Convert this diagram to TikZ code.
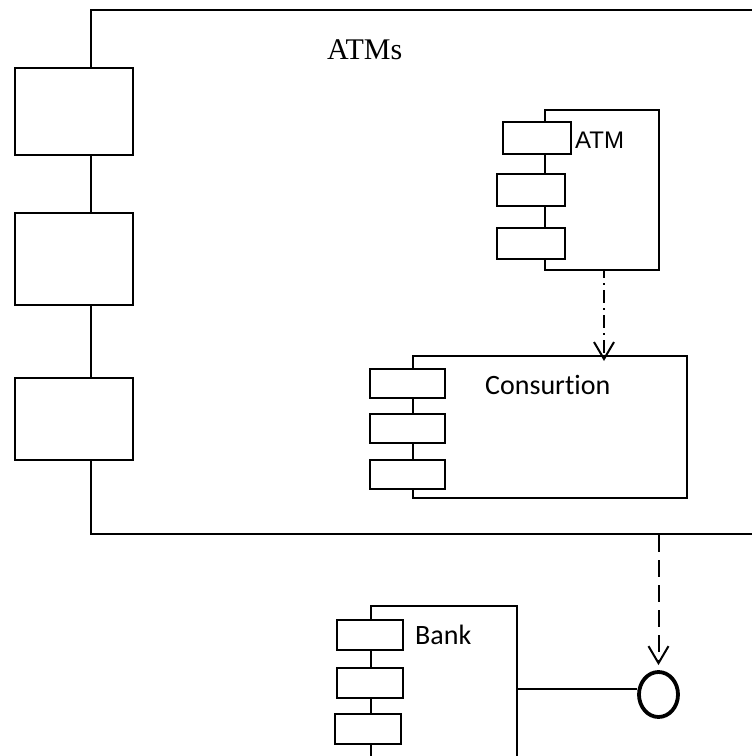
\documentclass[tikz,border=0pt]{standalone}
\usepackage{fontspec}
\setmainfont{Liberation Serif}
\newfontfamily\calfont[Ligatures=NoCommon]{Carlito}
\newfontfamily\arialfont{Liberation Sans}
\usetikzlibrary{arrows.meta,shapes.geometric}
\begin{document}
\begin{tikzpicture}[x=1pt,y=-1pt,
  outer/.style={draw,line width=2pt,fill=white,anchor=north west,inner sep=0pt},
  part/.style={draw,line width=1.8pt,fill=white,anchor=north west,inner sep=0pt},
  port/.style={draw,line width=1.7pt,fill=white,anchor=north west,inner sep=0pt},
  lbl/.style={anchor=base west,inner sep=0pt},
  vee/.style={-{Straight Barb[length=17pt,width=20pt,line width=2pt]}}]
\useasboundingbox (0,0) rectangle (752,756);
\clip (0,0) rectangle (752,756);

% enclosing ATMs component with its three big ports
\node[outer,minimum width=710pt,minimum height=524pt] (atms) at (90,9) {};
\node[anchor=base west,inner sep=0pt,font=\fontsize{30}{32}\selectfont] (atmstitle) at (327,59) {ATMs};
\node[outer,minimum width=118pt,minimum height=87pt] (p1) at (14,67) {};
\node[outer,minimum width=118pt,minimum height=92pt] (p2) at (14,212) {};
\node[outer,minimum width=118pt,minimum height=82pt] (p3) at (14,377) {};

% ATM component
\node[part,minimum width=114pt,minimum height=160pt] (atm) at (544,109) {};
\node[port,minimum width=68pt,minimum height=32pt] (a1) at (502,121) {};
\node[port,minimum width=68pt,minimum height=32pt] (a2) at (496,173) {};
\node[port,minimum width=68pt,minimum height=31pt] (a3) at (496,227) {};
\node[lbl,font=\arialfont\fontsize{24}{26}\selectfont] (atmlbl) at (575,148) {ATM};

% Consurtion component
\node[part,minimum width=274pt,minimum height=142pt] (cons) at (412,355) {};
\node[port,minimum width=75pt,minimum height=29pt] (c1) at (369,368) {};
\node[port,minimum width=75pt,minimum height=29pt] (c2) at (369,413) {};
\node[port,minimum width=75pt,minimum height=29pt] (c3) at (369,459) {};
\node[lbl,font=\calfont\fontsize{28}{30}\selectfont] (conslbl) at (485,394) {Consurtion};

% Bank component
\node[part,minimum width=146pt,minimum height=200pt] (bank) at (370,605) {};
\node[port,minimum width=66pt,minimum height=30pt] (b1) at (336,619) {};
\node[port,minimum width=66pt,minimum height=30pt] (b2) at (336,667) {};
\node[port,minimum width=66pt,minimum height=30pt] (b3) at (334,713) {};
\node[lbl,font=\calfont\fontsize{28}{30}\selectfont] (banklbl) at (415,644) {Bank};

% provided interface
\node[draw,ellipse,line width=3.8pt,minimum width=39pt,minimum height=45pt,inner sep=0pt] (iface) at (658.5,694.5) {};
\coordinate (bankport) at (516,689);
\draw[line width=1.8pt] (bankport) -- (iface.west |- bankport);

% dependencies
\coordinate (atmout) at (604,269);
\draw[vee,line width=2pt,dash pattern=on 13pt off 5pt on 2pt off 5pt,dash phase=4pt]
  (atmout) -- ([yshift=-6pt]cons.north -| atmout);
\draw[vee,line width=2pt,dash pattern=on 17pt off 8pt]
  (atms.south -| iface.north) -- ([yshift=5pt]iface.north);
\end{tikzpicture}
\end{document}
